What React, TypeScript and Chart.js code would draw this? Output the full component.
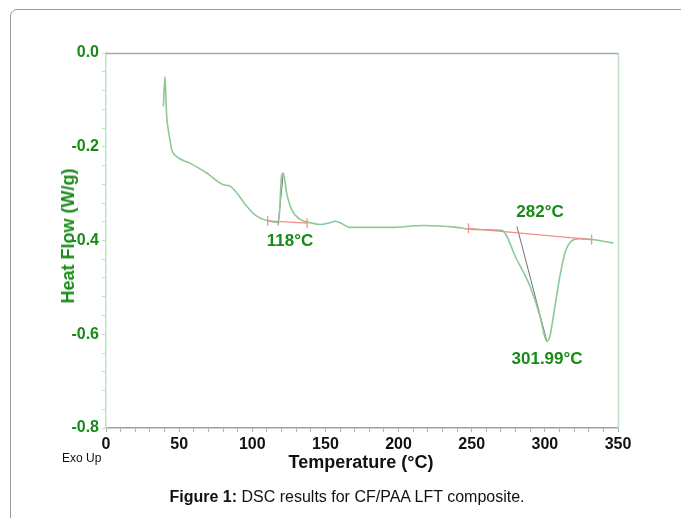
import React, { useEffect, useRef } from "react";
import { Chart, registerables } from "chart.js";

Chart.register(...registerables);

// DSC trace (Temperature °C, Heat Flow W/g)
const temperature = [
  39.2, 40.3, 41.0, 41.5, 42.6, 43.7, 44.9, 48.3, 57.4, 68.8, 80.2, 84.8, 89.3, 96.2, 103.0,
  112.1, 116.7, 118.3, 120.1, 121.2, 123.5, 126.9, 132.6, 139.5, 146.3, 153.1, 156.5, 160.0,
  166.8, 194.1, 216.7, 239.9, 248.8, 262.5, 270.5, 280.7, 289.8, 296.6, 300.0, 301.5, 303.5,
  306.9, 310.3, 313.8, 318.3, 324.0, 332.0, 346.8,
];
const heatFlow = [
  -0.114, -0.05, -0.1, -0.136, -0.164, -0.185, -0.206, -0.221, -0.235, -0.256, -0.281, -0.284,
  -0.298, -0.327, -0.348, -0.359, -0.361, -0.351, -0.26, -0.256, -0.299, -0.334, -0.355, -0.362,
  -0.366, -0.362, -0.359, -0.362, -0.372, -0.372, -0.368, -0.372, -0.376, -0.377, -0.378, -0.44,
  -0.497, -0.561, -0.606, -0.615, -0.604, -0.54, -0.476, -0.426, -0.401, -0.396, -0.398, -0.405,
];

// Integration baselines (red) and onset tangents (grey)
const baseline1T = [110.5, 137.5];
const baseline1H = [-0.358, -0.363];
const baseline2T = [247.8, 332.0];
const baseline2H = [-0.374, -0.398];
const tangent1T = [117.6, 121.2];
const tangent1H = [-0.368, -0.256];
const tangent2T = [280.9, 301.4];
const tangent2H = [-0.37, -0.615];

// Peak annotations
const annotationText = ["118°C", "282°C", "301.99°C"];
const annotationT = [125.8, 296.7, 301.5];
const annotationH = [-0.402, -0.34, -0.653];

// Axis ranges / ticks
const xMin = 0;
const xMax = 350;
const xMinorStep = 10;
const xLabelEvery = 5;
const yMin = -0.8;
const yMax = 0;
const yMinorStep = 0.04;
const yLabelEvery = 5;

const FONT = "'Liberation Sans', Arial, Helvetica, sans-serif";
const GREEN_TEXT = "#178a17";
const CURVE = "#8dc996";
const RED = "#f28c8c";
const GREY = "#707070";

const zip = (xs: number[], ys: number[]) => xs.map((x, i) => ({ x, y: ys[i] }));

const framePlugin = {
  id: "frame",
  afterDraw(chart: any) {
    const { ctx, chartArea } = chart;
    const { left, right, top, bottom } = chartArea;
    ctx.save();
    ctx.lineWidth = 1.5;
    ctx.strokeStyle = "#a8a8a8";
    ctx.beginPath();
    ctx.moveTo(left, top + 0.5);
    ctx.lineTo(right, top + 0.5);
    ctx.stroke();
    ctx.strokeStyle = "#bfe3c2";
    ctx.beginPath();
    ctx.moveTo(right + 0.5, top);
    ctx.lineTo(right + 0.5, bottom);
    ctx.stroke();
    ctx.restore();
  },
};

const labelPlugin = {
  id: "peakLabels",
  afterDatasetsDraw(chart: any) {
    const { ctx, scales } = chart;
    ctx.save();
    ctx.fillStyle = GREEN_TEXT;
    ctx.font = `bold 17px ${FONT}`;
    ctx.textAlign = "center";
    ctx.textBaseline = "middle";
    annotationText.forEach((t, i) => {
      ctx.fillText(t, scales.x.getPixelForValue(annotationT[i]), scales.y.getPixelForValue(annotationH[i]));
    });
    ctx.restore();
  },
};

function DSCChart() {
  const ref = useRef<HTMLCanvasElement | null>(null);
  useEffect(() => {
    if (!ref.current) return;
    const chart = new Chart(ref.current, {
      type: "scatter",
      data: {
        datasets: [
          {
            data: zip(baseline1T, baseline1H),
            showLine: true,
            borderColor: RED,
            borderWidth: 1.2,
            pointStyle: "line",
            rotation: 90,
            pointRadius: 5,
            pointBorderColor: RED,
            pointBorderWidth: 1.2,
          },
          {
            data: zip(baseline2T, baseline2H),
            showLine: true,
            borderColor: RED,
            borderWidth: 1.2,
            pointStyle: "line",
            rotation: 90,
            pointRadius: 5,
            pointBorderColor: RED,
            pointBorderWidth: 1.2,
          },
          {
            data: zip(temperature, heatFlow),
            showLine: true,
            borderColor: CURVE,
            borderWidth: 1.6,
            pointRadius: 0,
            cubicInterpolationMode: "monotone",
          },
          {
            data: zip(tangent1T, tangent1H),
            showLine: true,
            borderColor: GREY,
            borderWidth: 1,
            pointRadius: 0,
          },
          {
            data: zip(tangent2T, tangent2H),
            showLine: true,
            borderColor: GREY,
            borderWidth: 1,
            pointRadius: 0,
          },
        ],
      } as any,
      options: {
        animation: false,
        responsive: false,
        events: [],
        layout: { padding: { left: 0, top: 53, right: 63, bottom: 0 } },
        plugins: { legend: { display: false }, tooltip: { enabled: false }, title: { display: false } },
        scales: {
          x: {
            type: "linear",
            min: xMin,
            max: xMax,
            afterFit(scale: any) {
              scale.height = 90;
            },
            border: { color: "#a0a0a0", width: 1.5 },
            grid: { drawOnChartArea: false, color: "#b0b0b0", tickLength: 4 },
            ticks: {
              stepSize: xMinorStep,
              autoSkip: false,
              maxRotation: 0,
              padding: 3,
              color: "#111",
              font: { family: FONT, size: 16, weight: "bold" },
              callback: (v: any, i: number) => (i % xLabelEvery === 0 ? String(Math.round(v)) : ""),
            },
          },
          y: {
            type: "linear",
            min: yMin,
            max: yMax,
            afterFit(scale: any) {
              scale.width = 106;
            },
            border: { color: "#bfe3c2", width: 1.5 },
            grid: { drawOnChartArea: false, color: "#bfe3c2", tickLength: 4 },
            ticks: {
              stepSize: yMinorStep,
              autoSkip: false,
              padding: 3,
              color: GREEN_TEXT,
              font: { family: FONT, size: 16, weight: "bold" },
              callback: (v: any, i: number) =>
                i % yLabelEvery === 0 ? (Math.abs(v) < 1e-9 ? "0.0" : Number(v).toFixed(1)) : "",
            },
          },
        },
      } as any,
      plugins: [framePlugin, labelPlugin],
    });
    return () => chart.destroy();
  }, []);
  return (
    <canvas
      ref={ref}
      width={681}
      height={518}
      style={{ position: "absolute", left: 0, top: 0, width: 681, height: 518 }}
    />
  );
}

const centered = (x: number, y: number, extra: React.CSSProperties = {}): React.CSSProperties => ({
  position: "absolute",
  left: x,
  top: y,
  transform: "translate(-50%, -50%)",
  whiteSpace: "nowrap",
  lineHeight: 1,
  fontFamily: FONT,
  ...extra,
});

export default function App() {
  return (
    <div
      style={{
        position: "fixed",
        left: 0,
        top: 0,
        width: 681,
        height: 518,
        overflow: "hidden",
        background: "#fff",
      }}
    >
      <div
        style={{
          position: "absolute",
          left: 10,
          top: 9,
          width: 720,
          height: 560,
          border: "1px solid #9a9a9a",
          borderRadius: 7,
          boxSizing: "border-box",
        }}
      />
      <DSCChart />
      <div
        style={centered(68, 236, {
          transform: "translate(-50%, -50%) rotate(-90deg)",
          fontSize: 18,
          fontWeight: "bold",
          color: GREEN_TEXT,
        })}
      >
        Heat Flow (W/g)
      </div>
      <div style={centered(361, 462, { fontSize: 18, fontWeight: "bold", color: "#111" })}>
        Temperature (°C)
      </div>
      <div style={{ position: "absolute", left: 62, top: 452, fontSize: 12, fontFamily: FONT, color: "#111", lineHeight: 1 }}>
        Exo Up
      </div>
      <div style={centered(347, 497, { fontSize: 16, color: "#111" })}>
        <b>Figure 1:</b> DSC results for CF/PAA LFT composite.
      </div>
    </div>
  );
}
